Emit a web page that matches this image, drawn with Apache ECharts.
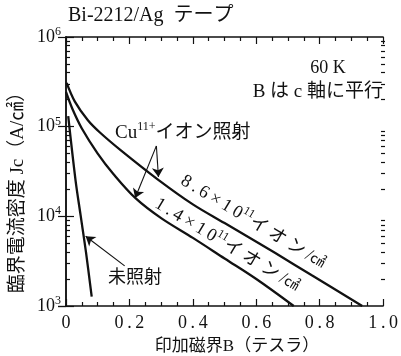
<!DOCTYPE html>
<html><head><meta charset="utf-8">
<script src="https://cdn.jsdelivr.net/npm/echarts@6/dist/echarts.min.js"></script>
<style>html,body{margin:0;padding:0;background:#fff}#c{width:401px;height:356px}</style>
</head><body><div id="c"></div>
<script>
// ---- data ----
const fieldUnirr = [0.007, 0.030, 0.046, 0.063, 0.081];
const jcUnirr    = [1.31e5, 2.54e4, 1.03e4, 3.98e3, 1.27e3];
const fieldLow   = [0, 0.02, 0.05, 0.10, 0.15, 0.22, 0.30, 0.40, 0.50, 0.60, 0.718];
const jcLow      = [2.44e5, 1.585e5, 9.55e4, 5.01e4, 2.95e4, 1.585e4, 9.55e3, 5.75e3, 3.39e3, 2.0e3, 1.0e3];
const fieldHigh  = [0.002, 0.028, 0.069, 0.107, 0.175, 0.29, 0.40, 0.50, 0.66, 0.775, 0.934];
const jcHigh     = [3.08e5, 1.905e5, 1.18e5, 8.61e4, 5.37e4, 2.57e4, 1.36e4, 8.41e3, 3.89e3, 2.20e3, 1.0e3];
const xTickLabels = ['0', '0.2', '0.4', '0.6', '0.8', '1.0'];
const yExponents  = [3, 4, 5, 6];

const FF = "'Liberation Serif','Noto Sans CJK JP',serif";
const INK = '#111';
const TS = '\u2009';
const zip = (a, b) => a.map((v, i) => [v, b[i]]);
const spaced = s => s.split('').join(TS);

const minorLogs = [];
for (let d = yExponents[0]; d < yExponents[yExponents.length - 1]; d++)
  for (let k = 2; k <= 9; k++) minorLogs.push(d + Math.log10(k));

const frameLine = { show: true, lineStyle: { color: INK, width: 1.5 } };
const tickStyle = { color: INK, width: 1.2 };
function xAx(pos, labels) {
  return {
    gridIndex: 0, type: 'value', position: pos, min: 0, max: 1, interval: 0.2,
    axisLine: frameLine,
    axisTick: { show: true, inside: true, length: 7, lineStyle: tickStyle },
    minorTick: { show: true, splitNumber: 4, length: 4, lineStyle: tickStyle },
    splitLine: { show: false }, minorSplitLine: { show: false },
    axisLabel: labels ? {
      show: true, color: INK, fontFamily: FF, fontSize: 18, margin: 8,
      formatter: v => spaced(xTickLabels[Math.round(v / 0.2)])
    } : { show: false }
  };
}
function yMajor(pos, labels) {
  return {
    gridIndex: 0, type: 'log', logBase: 10, position: pos,
    min: Math.pow(10, yExponents[0]), max: Math.pow(10, yExponents[yExponents.length - 1]),
    axisLine: frameLine,
    axisTick: { show: true, inside: true, length: 8, lineStyle: tickStyle },
    splitLine: { show: false },
    axisLabel: labels ? {
      show: true, margin: 5, showMinLabel: true, showMaxLabel: true,
      formatter: v => '{b|10}{s|' + Math.round(Math.log10(v)) + '}',
      rich: {
        b: { fontSize: 18, fontFamily: FF, color: INK, lineHeight: 22 },
        s: { fontSize: 12, fontFamily: FF, color: INK, verticalAlign: 'top', lineHeight: 12 }
      }
    } : { show: false }
  };
}
function yMinor(pos) {
  return {
    gridIndex: 1, type: 'value', position: pos, min: yExponents[0], max: yExponents[yExponents.length - 1],
    axisLine: { show: false },
    axisTick: { show: true, inside: true, length: 4, customValues: minorLogs, lineStyle: tickStyle },
    axisLabel: { show: false }, splitLine: { show: false }
  };
}

const arrowLine = { color: INK, width: 1.1, type: 'solid' };
function seriesOf(name, xs, ys, arrows) {
  const s = {
    name, type: 'line', data: zip(xs, ys), xAxisIndex: 0, yAxisIndex: 0,
    symbol: 'none', smooth: 0.35, lineStyle: { color: INK, width: 2.3 }, silent: true, z: 5
  };
  if (arrows) s.markLine = {
    silent: true, symbol: ['none', 'arrow'], symbolSize: 9, animation: false,
    label: { show: false }, lineStyle: arrowLine,
    data: arrows.map(a => [{ coord: a[0] }, { coord: a[1] }])
  };
  return s;
}

function txt(x, y, text, size, align, rotation) {
  return {
    type: 'text', x, y, rotation: rotation || 0, silent: true,
    style: { text, fill: INK, fontSize: size, fontFamily: FF, align: align || 'center', verticalAlign: 'middle' }
  };
}
function richTxt(x, y, text, rich, align, rotation) {
  return {
    type: 'text', x, y, rotation: rotation || 0, silent: true,
    style: { text, fill: INK, align: align || 'center', verticalAlign: 'middle', rich }
  };
}
const richLabel = {
  n: { fontSize: 18, fontFamily: FF, fill: INK, color: INK, lineHeight: 24 },
  s: { fontSize: 12, fontFamily: FF, fill: INK, color: INK, verticalAlign: 'top', lineHeight: 12 },
  u: { fontSize: 15, fontFamily: FF, fill: INK, color: INK, lineHeight: 24 }
};
const richCu = {
  n: { fontSize: 19, fontFamily: FF, fill: INK, color: INK, lineHeight: 24 },
  s: { fontSize: 12, fontFamily: FF, fill: INK, color: INK, verticalAlign: 'top', lineHeight: 12 }
};
const rot = -31 * Math.PI / 180;
const gridBox = { left: 66, right: 16, top: 37, bottom: 50, containLabel: false };
const curveLabel = (coef) => '{n|' + spaced(coef + '×10') + '}{s|11}{n|' + spaced('イオン/') + '}{u|㎠}';

const chart = echarts.init(document.getElementById('c'), null, { renderer: 'canvas' });
chart.setOption({
  animation: false,
  backgroundColor: '#fff',
  grid: [Object.assign({}, gridBox), Object.assign({}, gridBox)],
  xAxis: [xAx('bottom', true), xAx('top', false),
          { gridIndex: 1, type: 'value', min: 0, max: 1, show: false }],
  yAxis: [yMajor('left', true), yMajor('right', false), yMinor('left'), yMinor('right')],
  series: [
    seriesOf('未照射', fieldUnirr, jcUnirr, [[[0.185, 2.8e3], [0.062, 6.0e3]]]),
    seriesOf('1.4e11', fieldLow, jcLow, null),
    seriesOf('8.6e11', fieldHigh, jcHigh, [
      [[0.285, 6.1e4], [0.2915, 2.75e4]],
      [[0.285, 6.1e4], [0.218, 1.6e4]]
    ])
  ],
  graphic: [
    txt(68, 16, 'Bi-2212/Ag  テープ', 20, 'left'),
    txt(328, 68, '60 K', 18),
    txt(383, 92, 'B は c 軸に平行', 19, 'right'),
    richTxt(115, 133, '{n|Cu}{s|11+}{n|イオン照射}', richCu, 'left'),
    txt(135, 278, '未照射', 18),
    richTxt(253, 222, curveLabel('8.6'), richLabel, 'center', rot),
    richTxt(227, 245, curveLabel('1.4'), richLabel, 'center', rot),
    txt(18, 188, '臨界電流密度 Jc（A/㎠）', 19, 'center', Math.PI / 2),
    txt(237, 347, '印加磁界B（テスラ）', 17)
  ]
});
</script></body></html>
